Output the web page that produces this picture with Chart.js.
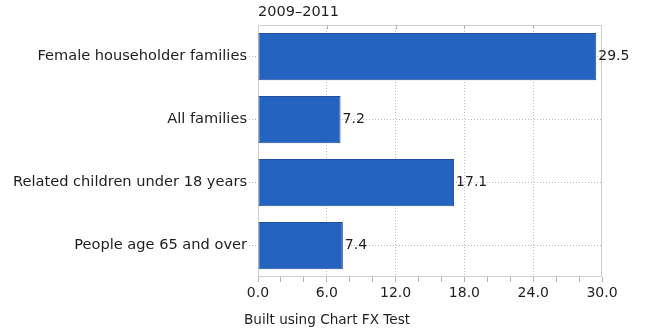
<!DOCTYPE html>
<html>
<head>
<meta charset="utf-8">
<script src="https://cdn.jsdelivr.net/npm/chart.js@4/dist/chart.umd.min.js"></script>
<style>
  html, body { margin: 0; padding: 0; background: #fff; }
  #wrap { width: 645px; height: 328px; }
</style>
</head>
<body>
<div id="wrap"><canvas id="c" width="645" height="328"></canvas></div>
<script>
// Poverty rates by family / person type, 2009–2011 (percent)
const categories = [
  "Female householder families",
  "All families",
  "Related children under 18 years",
  "People age 65 and over"
];
const rates = [29.5, 7.2, 17.1, 7.4];

// Value axis
const axisMin = 0;
const axisMax = 30;
const minorStep = 2;
const majorStep = 6;

const subtitle = "2009–2011";
const footerText = "Built using Chart FX Test";

const FONT = "'DejaVu Sans', sans-serif";
const TEXT = "#1e1e1e";
const FRAME = "#cfcfcf";
const GRID = "#bdbdbd";

const isMajor = v => Math.abs(v / majorStep - Math.round(v / majorStep)) < 1e-9;

// Frame, subtitle, footer and value labels
const decorations = {
  id: "decorations",
  beforeDatasetsDraw(chart) {
    const { ctx, chartArea: a } = chart;
    ctx.save();
    ctx.strokeStyle = FRAME;
    ctx.lineWidth = 1;
    ctx.strokeRect(a.left + 0.5, a.top + 0.5, a.right - a.left - 1, a.bottom - a.top - 1);
    // small inner ticks on the top edge at major values
    const xs = chart.scales.x;
    ctx.strokeStyle = "#b5b5b5";
    for (let v = axisMin + majorStep; v < axisMax; v += majorStep) {
      const px = Math.round(xs.getPixelForValue(v)) + 0.5;
      ctx.beginPath();
      ctx.moveTo(px, a.top);
      ctx.lineTo(px, a.top + 4);
      ctx.stroke();
    }
    ctx.restore();
  },
  afterDatasetsDraw(chart) {
    const { ctx } = chart;
    const meta = chart.getDatasetMeta(0);
    ctx.save();
    ctx.fillStyle = TEXT;
    ctx.font = "14px " + FONT;
    ctx.textBaseline = "middle";
    ctx.textAlign = "left";
    meta.data.forEach((bar, i) => {
      ctx.fillText(rates[i].toFixed(1), bar.x + 2, bar.y);
    });
    ctx.font = "14.5px " + FONT;
    ctx.fillText(subtitle, 258, 12);
    ctx.font = "13.6px " + FONT;
    ctx.fillText(footerText, 244, 320);
    ctx.restore();
  }
};

new Chart(document.getElementById("c"), {
  type: "bar",
  data: {
    labels: categories,
    datasets: [{
      data: rates,
      backgroundColor: "#2563c0",
      borderColor: "#1c4f9c",
      borderWidth: 1,
      borderSkipped: false,
      categoryPercentage: 1.0,
      barPercentage: 0.75
    }]
  },
  options: {
    indexAxis: "y",
    responsive: false,
    animation: false,
    layout: { padding: { left: 0, right: 43, top: 25, bottom: 0 } },
    plugins: {
      legend: { display: false },
      tooltip: { enabled: false }
    },
    scales: {
      x: {
        min: axisMin,
        max: axisMax,
        afterFit(scale) { scale.height = 51; },
        afterBuildTicks(scale) {
          const t = [];
          for (let v = axisMin; v <= axisMax + 1e-9; v += minorStep) t.push({ value: v });
          scale.ticks = t;
        },
        ticks: {
          autoSkip: false,
          maxRotation: 0,
          padding: 3,
          color: TEXT,
          font: { family: FONT, size: 14 },
          callback: v => (isMajor(v) ? v.toFixed(1) : "")
        },
        grid: {
          color: c => (c.tick && isMajor(c.tick.value) && c.tick.value > axisMin && c.tick.value < axisMax ? GRID : "rgba(0,0,0,0)"),
          tickColor: "#b5b5b5",
          tickLength: 5,
          lineWidth: 1
        },
        border: { display: false, dash: [1, 2] }
      },
      y: {
        afterFit(scale) { scale.width = 258; },
        ticks: {
          padding: 2,
          color: TEXT,
          font: { family: FONT, size: 14.6 }
        },
        grid: {
          offset: false,
          color: GRID,
          tickColor: "#b5b5b5",
          tickLength: 9,
          tickBorderDash: [1, 2],
          lineWidth: 1
        },
        border: { display: false, dash: [1, 2] }
      }
    }
  },
  plugins: [decorations]
});
</script>
</body>
</html>
